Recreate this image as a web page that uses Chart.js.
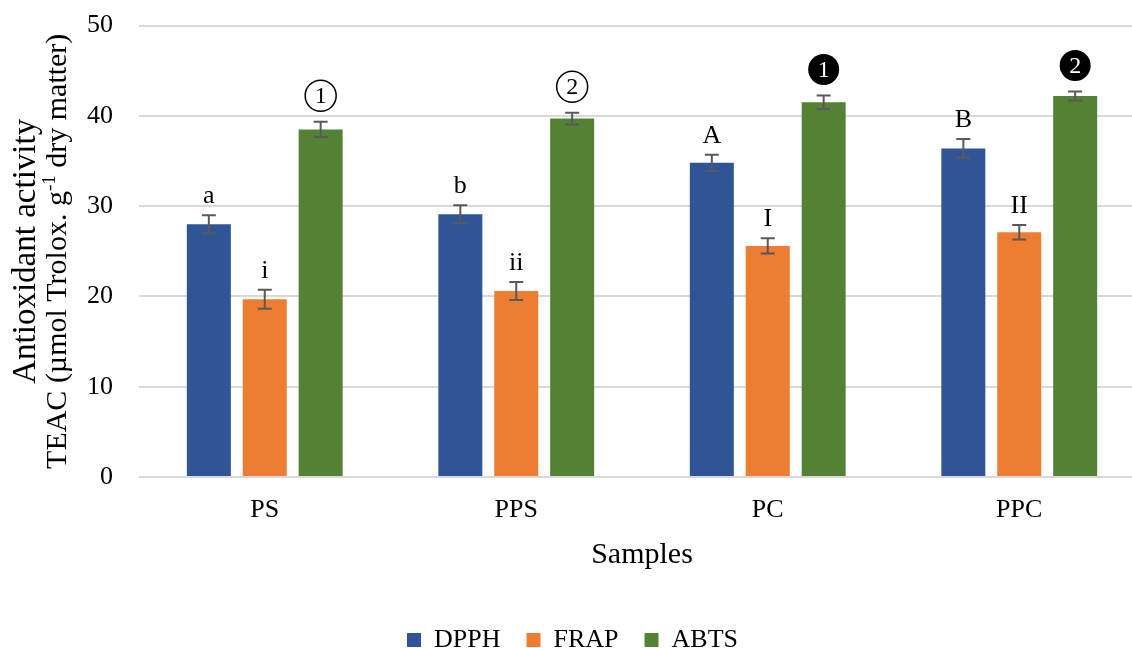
<!DOCTYPE html>
<html>
<head>
<meta charset="utf-8">
<script src="https://cdn.jsdelivr.net/npm/chart.js@4.4.1/dist/chart.umd.min.js"></script>
<style>
    html, body { margin: 0; padding: 0; background: #fff; overflow: hidden; }
    #wrap { width: 1145px; height: 679px; margin-top: -16px; }
</style>
</head>
<body>
<div id="wrap"><canvas id="chart" width="1145" height="679"></canvas></div>
<script>
const samples = ['PS', 'PPS', 'PC', 'PPC'];
const dpph = [28.0, 29.1, 34.8, 36.4];
const frap = [19.7, 20.6, 25.6, 27.1];
const abts = [38.5, 39.7, 41.5, 42.2];
const dpphErr = [1.0, 1.0, 0.9, 1.05];
const frapErr = [1.05, 1.0, 0.85, 0.8];
const abtsErr = [0.85, 0.65, 0.75, 0.5];
const dpphMarks = ['a', 'b', 'A', 'B'];
const frapMarks = ['i', 'ii', 'I', 'II'];
const abtsMarks = ['1', '2', '1', '2'];
const abtsFilled = [false, false, true, true];
const yTitle1 = 'Antioxidant activity';
const yTitle2 = ['TEAC (µmol Trolox. g', '-1', ' dry matter)'];

const serif = '"Liberation Serif", "Times New Roman", serif';

// error bars + letters above the bars
const errorBars = {
    id: 'errorBars',
    afterDatasetsDraw(chart) {
        const ctx = chart.ctx;
        const y = chart.scales.y;
        chart.data.datasets.forEach((ds, i) => {
            const meta = chart.getDatasetMeta(i);
            meta.data.forEach((bar, j) => {
                const v = ds.data[j], e = ds.errors[j];
                const top = y.getPixelForValue(v + e);
                const bot = y.getPixelForValue(v - e);
                ctx.save();
                ctx.strokeStyle = '#595959';
                ctx.lineWidth = 2;
                ctx.beginPath();
                ctx.moveTo(bar.x, top); ctx.lineTo(bar.x, bot);
                ctx.moveTo(bar.x - 7, top); ctx.lineTo(bar.x + 7, top);
                ctx.moveTo(bar.x - 7, bot); ctx.lineTo(bar.x + 7, bot);
                ctx.stroke();

                const mark = ds.marks[j];
                ctx.textAlign = 'center';
                if (ds.filled) {
                    const cy = top - 10 - 16;
                    ctx.beginPath();
                    ctx.arc(bar.x, cy, 15.5, 0, Math.PI * 2);
                    if (ds.filled[j]) {
                        ctx.fillStyle = '#000';
                        ctx.fill();
                        ctx.fillStyle = '#fff';
                    } else {
                        ctx.strokeStyle = '#000';
                        ctx.lineWidth = 1.5;
                        ctx.stroke();
                        ctx.fillStyle = '#000';
                    }
                    ctx.font = '24px ' + serif;
                    ctx.textBaseline = 'middle';
                    ctx.fillText(mark, bar.x, cy + 1);
                } else {
                    ctx.fillStyle = '#000';
                    ctx.font = '26px ' + serif;
                    ctx.textBaseline = 'alphabetic';
                    ctx.fillText(mark, bar.x, top - 12);
                }
                ctx.restore();
            });
        });
    }
};

// two-line y title, second line has a superscript
const yTitle = {
    id: 'yTitle',
    afterDraw(chart) {
        const ctx = chart.ctx;
        const area = chart.chartArea;
        const cy = (area.top + area.bottom) / 2;
        ctx.save();
        ctx.fillStyle = '#000';
        ctx.textBaseline = 'middle';
        ctx.translate(0, cy);
        ctx.rotate(-Math.PI / 2);

        ctx.font = '33px ' + serif;
        ctx.textAlign = 'center';
        ctx.fillText(yTitle1, 0, 26);

        const big = '30px ' + serif, small = '19px ' + serif;
        ctx.font = big;
        const w1 = ctx.measureText(yTitle2[0]).width;
        const w3 = ctx.measureText(yTitle2[2]).width;
        ctx.font = small;
        const w2 = ctx.measureText(yTitle2[1]).width;
        let x = -(w1 + w2 + w3) / 2;
        ctx.textAlign = 'left';
        ctx.font = big;
        ctx.fillText(yTitle2[0], x, 58);
        x += w1;
        ctx.font = small;
        ctx.fillText(yTitle2[1], x, 50);
        x += w2;
        ctx.font = big;
        ctx.fillText(yTitle2[2], x, 58);
        ctx.restore();
    }
};

new Chart(document.getElementById('chart'), {
    type: 'bar',
    data: {
        labels: samples,
        datasets: [
            { label: 'DPPH', data: dpph, errors: dpphErr, marks: dpphMarks, backgroundColor: '#2F5597' },
            { label: 'FRAP', data: frap, errors: frapErr, marks: frapMarks, backgroundColor: '#ED7D31' },
            { label: 'ABTS', data: abts, errors: abtsErr, marks: abtsMarks, filled: abtsFilled, backgroundColor: '#548235' }
        ]
    },
    options: {
        responsive: false,
        animation: false,
        categoryPercentage: 0.667,
        barPercentage: 0.787,
        layout: { padding: { top: 9, right: 0, left: 0, bottom: 0 } },
        scales: {
            x: {
                afterFit: s => { s.height = 124; },
                grid: { display: false },
                border: { display: false },
                ticks: { color: '#000', padding: 10, font: { family: serif, size: 26 } },
                title: {
                    display: true,
                    text: 'Samples',
                    color: '#000',
                    font: { family: serif, size: 30 },
                    padding: { top: 0, bottom: 28 }
                }
            },
            y: {
                min: 0,
                max: 50,
                afterFit: s => { s.width = 139; },
                grid: { color: '#D9D9D9', lineWidth: 2, drawTicks: false },
                border: { display: false },
                ticks: { stepSize: 10, color: '#000', padding: 26, font: { family: serif, size: 26 } }
            }
        },
        plugins: {
            legend: {
                position: 'bottom',
                labels: {
                    boxWidth: 14,
                    boxHeight: 14,
                    padding: 26,
                    color: '#000',
                    font: { family: serif, size: 26 }
                }
            },
            tooltip: { enabled: false }
        }
    },
    plugins: [errorBars, yTitle]
});
</script>
</body>
</html>
